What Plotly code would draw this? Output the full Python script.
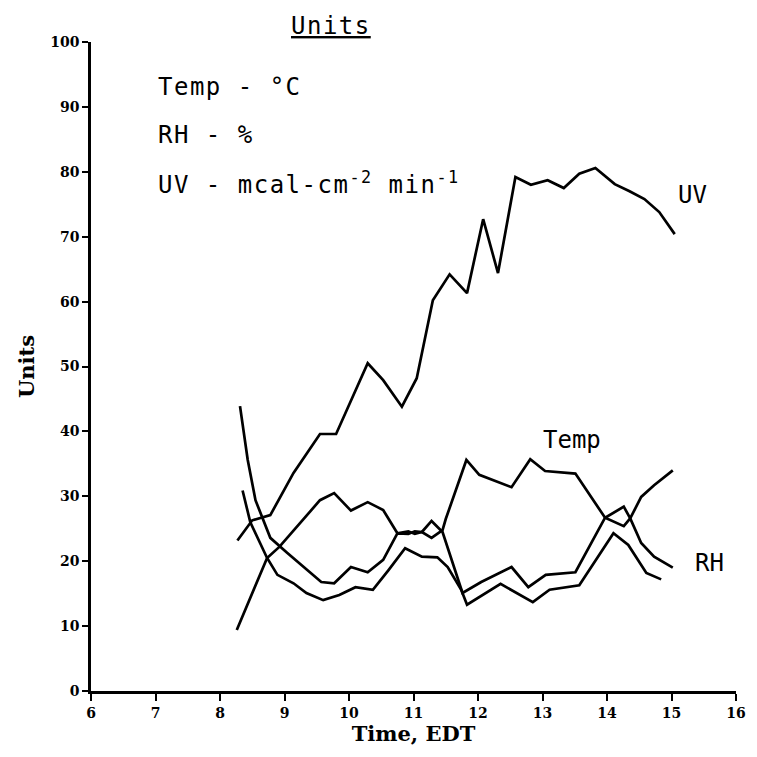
import plotly.graph_objects as go

# Time (EDT) and values
uv_x = [8.27, 8.5, 8.78, 9.14, 9.55, 9.8, 10.29, 10.53, 10.82, 11.05, 11.3, 11.56, 11.83, 12.08, 12.31,
        12.58, 12.82, 13.08, 13.33, 13.57, 13.82, 14.12, 14.35, 14.58, 14.81, 15.05]
uv_y = [23.2, 26.3, 27.1, 33.6, 39.6, 39.6, 50.5, 47.9, 43.8, 48.2, 60.2, 64.2, 61.3, 72.7, 64.4,
        79.2, 78.0, 78.7, 77.5, 79.7, 80.6, 78.1, 77.0, 75.8, 73.8, 70.4]

temp_x = [8.26, 8.73, 8.92, 9.55, 9.77, 10.03, 10.29, 10.53, 10.75, 10.92, 11.02, 11.13, 11.28, 11.45,
          11.5, 11.82, 12.02, 12.52, 12.81, 13.04, 13.51, 13.97, 14.26, 14.36, 14.53, 14.73, 15.02]
temp_y = [9.4, 20.5, 22.2, 29.4, 30.5, 27.8, 29.1, 27.9, 24.3, 24.6, 24.2, 24.5, 23.6, 24.8,
          26.5, 35.6, 33.3, 31.4, 35.7, 33.9, 33.5, 26.7, 25.4, 26.6, 22.8, 20.7, 19.0]

rh_x = [8.31, 8.43, 8.55, 8.78, 9.04, 9.57, 9.77, 10.03, 10.29, 10.53, 10.75, 10.92, 11.02, 11.13,
        11.28, 11.45, 11.76, 12.05, 12.52, 12.78, 13.05, 13.51, 13.97, 14.26, 14.36, 14.53, 14.73, 15.02]
rh_y = [43.9, 35.6, 29.4, 23.6, 21.3, 16.8, 16.6, 19.1, 18.3, 20.2, 24.3, 24.2, 24.6, 24.5,
        26.2, 24.5, 15.1, 16.8, 19.1, 16.0, 17.9, 18.3, 26.7, 28.4, 26.6, 29.9, 31.7, 34.0]

rh2_x = [8.35, 8.47, 8.73, 8.89, 9.14, 9.34, 9.6, 9.85, 10.1, 10.37, 10.61, 10.87, 11.13, 11.37,
         11.53, 11.74, 11.83, 12.35, 12.85, 13.11, 13.57, 14.1, 14.33, 14.61, 14.84]
rh2_y = [30.9, 26.0, 20.5, 17.9, 16.6, 15.1, 14.0, 14.8, 16.0, 15.6, 18.6, 22.0, 20.7, 20.6,
         19.1, 15.6, 13.3, 16.5, 13.7, 15.6, 16.3, 24.3, 22.5, 18.2, 17.2]

x_ticks = list(range(6, 17))
y_ticks = list(range(0, 101, 10))

fig = go.Figure()
for xs, ys, nm in [(uv_x, uv_y, "UV"), (temp_x, temp_y, "Temp"), (rh_x, rh_y, "RH"), (rh2_x, rh2_y, "RH2")]:
    fig.add_trace(go.Scatter(x=xs, y=ys, mode="lines", name=nm,
                             line=dict(color="black", width=2.7)))

tickfont = dict(family="DejaVu Serif", size=14, color="black")
fig.update_layout(
    width=757, height=757,
    margin=dict(l=91, r=11, t=42, b=66),
    paper_bgcolor="white", plot_bgcolor="white",
    showlegend=False,
    xaxis=dict(range=[6, 16], tickvals=x_ticks, ticktext=[f"<b>{v}</b>" for v in x_ticks],
               showgrid=False, zeroline=False, showline=True, linecolor="black", linewidth=2.5,
               ticks="outside", ticklen=7, tickwidth=2, tickcolor="black", tickfont=tickfont,
               title=dict(text="<b>Time, EDT</b>", font=dict(family="DejaVu Serif", size=21, color="black"),
                          standoff=3)),
    yaxis=dict(range=[0, 100], tickvals=y_ticks, ticktext=[f"<b>{v}</b>" for v in y_ticks],
               showgrid=False, zeroline=False, showline=True, linecolor="black", linewidth=2.5,
               ticks="outside", ticklen=6, tickwidth=2, tickcolor="black", tickfont=tickfont,
               title=dict(text="<b>Units</b>", font=dict(family="DejaVu Serif", size=21, color="black"),
                          standoff=10)),
)

mono = "DejaVu Sans Mono"
ls = '<span style="letter-spacing:1.5px">{}</span>'
fig.add_annotation(x=(335 - 91) / 655, y=(691 - 26) / 649, xref="paper", yref="paper",
                   text="<u>" + ls.format("Units") + "</u>", showarrow=False,
                   xanchor="center", yanchor="middle", font=dict(family=mono, size=24, color="black"))
ann = [
    ("Temp - °C", 87),
    ("RH - %", 135),
    ("UV - mcal-cm<sup>-2</sup> min<sup>-1</sup>", 183),
]
for txt, ypx in ann:
    fig.add_annotation(x=(157 - 91) / 655, y=(691 - ypx) / 649, xref="paper", yref="paper",
                       text=ls.format(txt), showarrow=False, xanchor="left", yanchor="middle",
                       font=dict(family=mono, size=24, color="black"))

fig.add_annotation(x=15.33, y=76.4, text="UV", showarrow=False, font=dict(family=mono, size=24, color="black"))
fig.add_annotation(x=13.45, y=38.7, text="Temp", showarrow=False, font=dict(family=mono, size=24, color="black"))
fig.add_annotation(x=15.34, y=19.7, text="RH", showarrow=False, xanchor="left",
                   font=dict(family=mono, size=24, color="black"))

fig.write_html("out.html")
